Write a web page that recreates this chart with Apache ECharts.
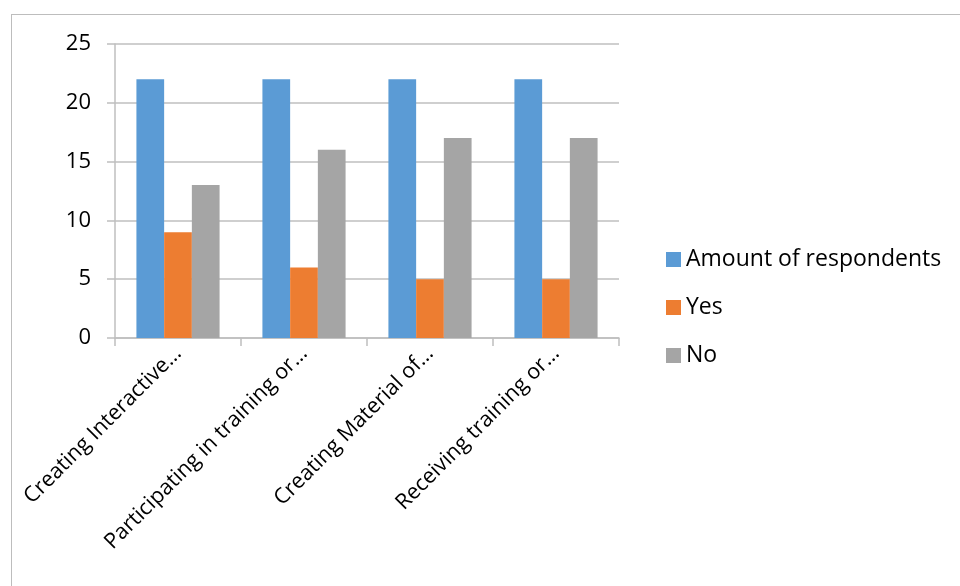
<!DOCTYPE html>
<html>
<head>
<meta charset="utf-8">
<script src="https://cdn.jsdelivr.net/npm/echarts@6/dist/echarts.min.js"></script>
<style>
  html, body { margin: 0; padding: 0; background: #fff; }
  #frame { position: absolute; left: 11px; top: 14px; width: 1000px; height: 700px; border: 1px solid #bdbdbd; }
  #chart { position: absolute; left: 0; top: 0; width: 960px; height: 586px; }
</style>
</head>
<body>
<div id="frame"></div>
<div id="chart"></div>
<script>
const categories = [
  'Creating Interactive…',
  'Participating in training or…',
  'Creating Material of…',
  'Receiving training or…'
]
const respondents = [22, 22, 22, 22]
const yes = [9, 6, 5, 5]
const no = [13, 16, 17, 17]

const font = '"Open Sans", "Liberation Sans", sans-serif'

const chart = echarts.init(document.getElementById('chart'), null, { renderer: 'canvas' })

chart.setOption({
  animation: false,
  textStyle: { fontFamily: font },
  legend: {
    orient: 'vertical',
    left: 661,
    top: 243,
    itemWidth: 15,
    itemHeight: 15,
    itemGap: 25,
    icon: 'rect',
    textStyle: { color: '#000', fontSize: 23, fontFamily: font },
    data: ['Amount of respondents', 'Yes', 'No']
  },
  grid: { left: 115, right: 341, top: 44, bottom: 248 },
  xAxis: {
    type: 'category',
    data: categories,
    axisLine: { lineStyle: { color: '#bfbfbf', width: 1.5 } },
    axisTick: { show: true, length: 8, lineStyle: { color: '#bfbfbf', width: 1.5 } },
    axisLabel: { rotate: 45, color: '#000', fontSize: 21.5, margin: 12, interval: 0, fontFamily: font }
  },
  yAxis: {
    type: 'value',
    min: 0,
    max: 25,
    interval: 5,
    axisLine: { show: true, lineStyle: { color: '#bfbfbf', width: 1.5 } },
    axisTick: { show: true, length: 8, lineStyle: { color: '#bfbfbf', width: 1.5 } },
    splitLine: { lineStyle: { color: '#bfbfbf', width: 1.5 } },
    axisLabel: { color: '#000', fontSize: 22, margin: 24, fontFamily: font }
  },
  series: [
    {
      name: 'Amount of respondents',
      type: 'bar',
      data: respondents,
      barGap: '0%',
      barCategoryGap: '34%',
      itemStyle: { color: '#5b9bd5' }
    },
    {
      name: 'Yes',
      type: 'bar',
      data: yes,
      barGap: '0%',
      barCategoryGap: '34%',
      itemStyle: { color: '#ed7d31' }
    },
    {
      name: 'No',
      type: 'bar',
      data: no,
      barGap: '0%',
      barCategoryGap: '34%',
      itemStyle: { color: '#a5a5a5' }
    }
  ]
})
</script>
</body>
</html>
